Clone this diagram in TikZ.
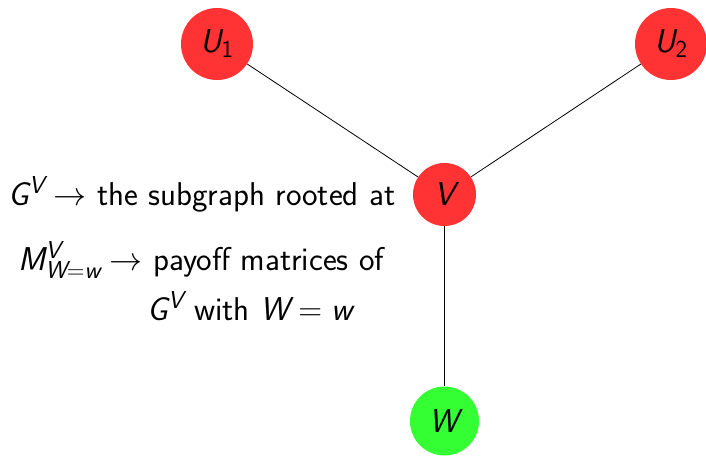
\RequirePackage{fix-cm}
\documentclass[tikz,border=0pt]{standalone}
\usepackage{fontspec}
\setmainfont{Latin Modern Sans}
\DeclareMathSizes{33}{33}{24.5}{18}
% italic sans letters for the math symbols
\newcommand{\mi}[1]{\mathit{#1}}
\begin{document}
\begin{tikzpicture}[x=1pt,y=1pt,
  vertex/.style={circle,draw=none,inner sep=0pt,font=\fontsize{33}{40}\selectfont},
  redv/.style={vertex,fill=red!80},
  greenv/.style={vertex,fill=green!80},
  note/.style={anchor=base west,inner sep=0pt,font=\fontsize{33}{40}\selectfont},
  edge/.style={draw=black,line width=0.8pt}]
\useasboundingbox (0,0) rectangle (706,-455);
\node[redv,minimum size=72pt] (u1) at (217,-44) {$\mi{U}_{\mathrm{1}}$};
\node[redv,minimum size=72pt] (u2) at (671,-44) {$\mi{U}_{\mathrm{2}}$};
\node[redv,minimum size=63pt] (v) at (444.5,-194.5) {$\mi{V}$};
\node[greenv,minimum size=69pt] (w) at (444.5,-421) {$\mi{W}$};
\draw[edge] (u1) -- (v);
\draw[edge] (u2) -- (v);
\draw[edge] (v) -- (w);
\node[note] (t1) at (8,-205) {$\mi{G}^{\mi{V}} \rightarrow$ the subgraph rooted at};
\node[note] (t2) at (18,-270) {$\mi{M}^{\mi{V}}_{\mi{W}=\mi{w}} \rightarrow$ payoff matrices of};
\node[note] (t3) at (147,-320) {$\mi{G}^{\mi{V}}$ with $\mi{W}\mathrel{=}\mi{w}$};
\end{tikzpicture}
\end{document}
